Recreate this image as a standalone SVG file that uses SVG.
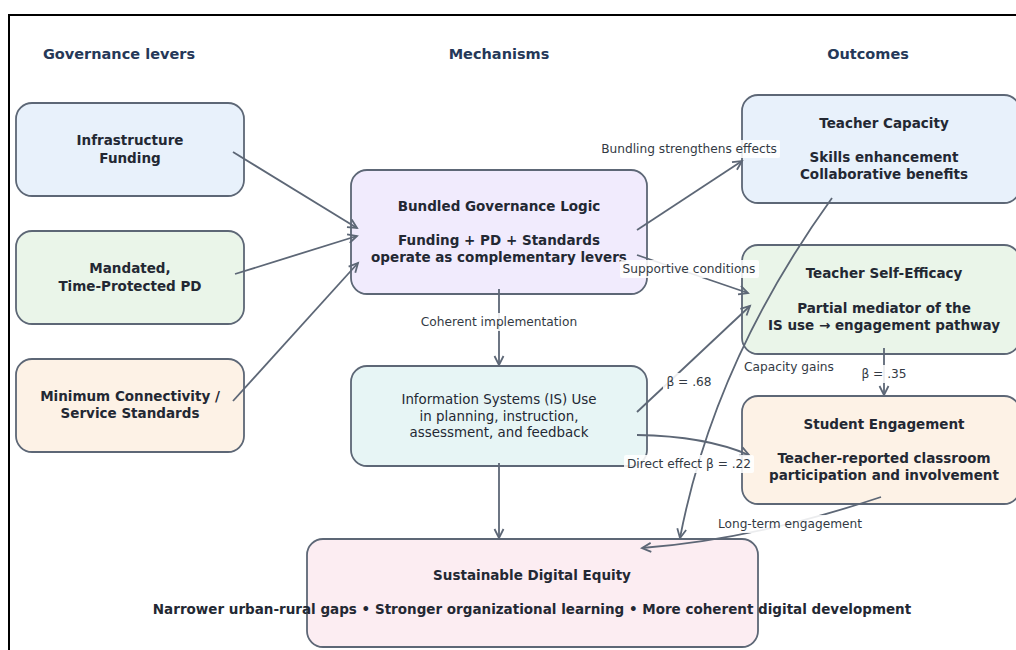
<svg xmlns="http://www.w3.org/2000/svg" width="1016" height="650" viewBox="0 0 1016 650">
<style>
.hdr{font-family:"DejaVu Sans",sans-serif;font-size:14.5px;font-weight:bold;fill:#253858;text-anchor:middle;dominant-baseline:central}
.box{stroke:#5d6776;stroke-width:1.8}
.t{font-family:"DejaVu Sans",sans-serif;font-size:13.5px;font-weight:bold;fill:#232833;text-anchor:middle;dominant-baseline:central}
.tn{font-family:"DejaVu Sans",sans-serif;font-size:13.4px;fill:#232833;text-anchor:middle;dominant-baseline:central}
.edge{fill:none;stroke:#5d6776;stroke-width:1.8;marker-end:url(#arr)}
.lbl{font-family:"DejaVu Sans",sans-serif;font-size:12.2px;fill:#333a44;text-anchor:middle;dominant-baseline:central}
.lbg{fill:#ffffff;fill-opacity:0.88}
</style>
<defs>
<marker id="arr" markerUnits="userSpaceOnUse" markerWidth="14" markerHeight="14" refX="11" refY="7" orient="auto" viewBox="0 0 14 14">
<path d="M2,2.5 L11,7 L2,11.5" fill="none" stroke="#5d6776" stroke-width="1.8"/>
</marker>
</defs>
<rect x="0" y="0" width="1016" height="650" fill="#ffffff"/>
<rect x="9" y="15" width="1020" height="650" fill="none" stroke="#000000" stroke-width="2"/>

<g id="headers">
<text class="hdr" x="119" y="54">Governance levers</text>
<text class="hdr" x="499" y="54">Mechanisms</text>
<text class="hdr" x="868" y="54">Outcomes</text>
</g>

<g id="node-infrastructure">
<rect class="box" x="16" y="103" width="228" height="93" rx="16" fill="#e8f1fb"/>
<text class="t" x="130" y="140">Infrastructure</text>
<text class="t" x="130" y="158">Funding</text>
</g>
<g id="node-mandated">
<rect class="box" x="16" y="231" width="228" height="93" rx="16" fill="#eaf5e9"/>
<text class="t" x="130" y="268">Mandated,</text>
<text class="t" x="130" y="286">Time-Protected PD</text>
</g>
<g id="node-connectivity">
<rect class="box" x="16" y="359" width="228" height="93" rx="16" fill="#fdf2e6"/>
<text class="t" x="130" y="396">Minimum Connectivity /</text>
<text class="t" x="130" y="413">Service Standards</text>
</g>
<g id="node-bundled">
<rect class="box" x="351" y="170" width="296" height="124" rx="16" fill="#f1ebfd"/>
<text class="t" x="499" y="206">Bundled Governance Logic</text>
<text class="t" x="499" y="240">Funding + PD + Standards</text>
<text class="t" x="499" y="257">operate as complementary levers</text>
</g>
<g id="node-is">
<rect class="box" x="351" y="366" width="296" height="100" rx="16" fill="#e7f5f5"/>
<text class="tn" x="499" y="399">Information Systems (IS) Use</text>
<text class="tn" x="499" y="416">in planning, instruction,</text>
<text class="tn" x="499" y="432">assessment, and feedback</text>
</g>
<g id="node-capacity">
<rect class="box" x="742" y="95" width="278" height="108" rx="16" fill="#e8f1fb"/>
<text class="t" x="884" y="123">Teacher Capacity</text>
<text class="t" x="884" y="157">Skills enhancement</text>
<text class="t" x="884" y="174">Collaborative benefits</text>
</g>
<g id="node-selfefficacy">
<rect class="box" x="742" y="245" width="278" height="109" rx="16" fill="#eaf5e9"/>
<text class="t" x="884" y="273">Teacher Self-Efficacy</text>
<text class="t" x="884" y="308">Partial mediator of the</text>
<text class="t" x="884" y="325">IS use → engagement pathway</text>
</g>
<g id="node-engagement">
<rect class="box" x="742" y="396" width="278" height="108" rx="16" fill="#fdf2e6"/>
<text class="t" x="884" y="424">Student Engagement</text>
<text class="t" x="884" y="458">Teacher-reported classroom</text>
<text class="t" x="884" y="475">participation and involvement</text>
</g>
<g id="node-equity">
<rect class="box" x="307" y="539" width="451" height="108" rx="16" fill="#fcedf2"/>
<text class="t" x="532" y="575">Sustainable Digital Equity</text>
<text class="t" x="532" y="609">Narrower urban-rural gaps • Stronger organizational learning • More coherent digital development</text>
</g>

<g id="connectors">
<path class="edge" d="M233,152 L357,228"/>
<path class="edge" d="M235,274 L357,236"/>
<path class="edge" d="M233,401 L358,263"/>
<path class="edge" d="M637,230 L742,161"/>
<path class="edge" d="M637,255 L748,293"/>
<path class="edge" d="M499,289 L499,365"/>
<path class="edge" d="M637,412 L750,306"/>
<path class="edge" d="M637,435 Q705,436 749,455"/>
<path class="edge" d="M832,198 Q714,362 680,538"/>
<path class="edge" d="M884,348 L884,395"/>
<path class="edge" d="M499,463 L499,538"/>
<path class="edge" d="M881,497 Q752,540 642,548"/>
</g>

<g id="labels">
<rect class="lbg" x="598" y="140" width="182" height="18" rx="2"/>
<text class="lbl" x="689" y="149">Bundling strengthens effects</text>
<rect class="lbg" x="620" y="260" width="139" height="18" rx="2"/>
<text class="lbl" x="689" y="269">Supportive conditions</text>
<rect class="lbg" x="418" y="313" width="162" height="18" rx="2"/>
<text class="lbl" x="499" y="322">Coherent implementation</text>
<rect class="lbg" x="663" y="373" width="52" height="18" rx="2"/>
<text class="lbl" x="689" y="382">β = .68</text>
<rect class="lbg" x="624" y="455" width="130" height="18" rx="2"/>
<text class="lbl" x="689" y="464">Direct effect β = .22</text>
<rect class="lbg" x="742" y="358" width="94" height="18" rx="2"/>
<text class="lbl" x="789" y="367">Capacity gains</text>
<rect class="lbg" x="859" y="365" width="51" height="18" rx="2"/>
<text class="lbl" x="884" y="374">β = .35</text>
<rect class="lbg" x="715" y="515" width="150" height="18" rx="2"/>
<text class="lbl" x="790" y="524">Long-term engagement</text>
</g>
</svg>
